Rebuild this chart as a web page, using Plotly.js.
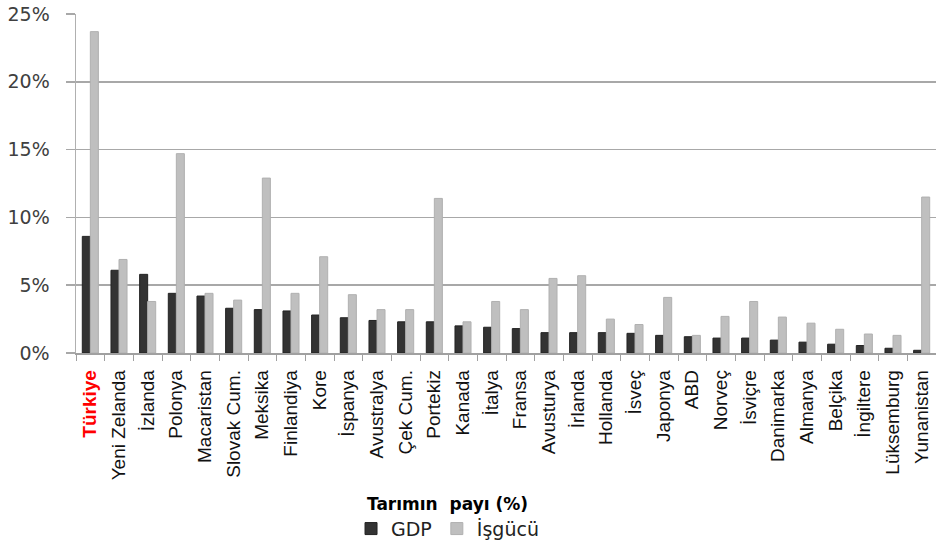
<!DOCTYPE html>
<html>
<head>
<meta charset="utf-8">
<script src="https://cdn.plot.ly/plotly-3.0.1.min.js"></script>
<style>html,body{margin:0;padding:0;background:#fff;}#chart{width:936px;height:540px;}</style>
</head>
<body>
<div id="chart"></div>
<script>
var categories = ["Türkiye","Yeni Zelanda","İzlanda","Polonya","Macaristan","Slovak Cum.","Meksika","Finlandiya","Kore","İspanya","Avustralya","Çek Cum.","Portekiz","Kanada","İtalya","Fransa","Avusturya","İrlanda","Hollanda","İsveç","Japonya","ABD","Norveç","İsviçre","Danimarka","Almanya","Belçika","İngiltere","Lüksemburg","Yunanistan"];
var gdpShare = [8.6,6.1,5.8,4.4,4.2,3.3,3.2,3.1,2.8,2.6,2.4,2.3,2.3,2.0,1.9,1.8,1.5,1.5,1.5,1.45,1.3,1.2,1.1,1.1,0.95,0.8,0.65,0.55,0.35,0.2];
var labourShare = [23.7,6.9,3.8,14.7,4.4,3.9,12.9,4.4,7.1,4.3,3.2,3.2,11.4,2.3,3.8,3.2,5.5,5.7,2.5,2.1,4.1,1.3,2.7,3.8,2.65,2.2,1.75,1.4,1.3,11.5];
var yTicks = [0,5,10,15,20,25];
var yTickLabels = ["0%","5%","10%","15%","20%","25%"];
var highlight = "Türkiye";

var tickText = categories.map(function(c){
  return c === highlight ? '<b><span style="color:#ff0000">' + c + '</span></b>' : c;
});

var traces = [
  {type:'bar', name:'GDP', x:categories, y:gdpShare,
   marker:{color:'#333333', line:{color:'#222222', width:1}}, hoverinfo:'skip'},
  {type:'bar', name:'İşgücü', x:categories, y:labourShare,
   marker:{color:'#bfbfbf', line:{color:'#b0b0b0', width:1}}, hoverinfo:'skip'}
];

var layout = {
  width:936, height:540,
  margin:{l:76, r:0, t:14, b:187},
  paper_bgcolor:'#ffffff', plot_bgcolor:'#ffffff',
  barmode:'group', bargap:0.44, bargroupgap:0,
  showlegend:true,
  legend:{
    orientation:'h', xref:'paper', x:0.432, xanchor:'center',
    yref:'container', y:0.097, yanchor:'top',
    font:{family:'DejaVu Sans', size:19, color:'#222222'},
    title:{text:'<b>Tarımın  payı (%)</b>', side:'top center', font:{family:'DejaVu Sans', size:17, color:'#000000'}},
    traceorder:'normal'
  },
  xaxis:{
    type:'category', tickmode:'array', tickvals:categories, ticktext:tickText,
    tickangle:-90, tickson:'boundaries', ticks:'outside', ticklen:6, tickcolor:'#a0a0a0',
    showline:true, linecolor:'#a0a0a0', linewidth:1.5, showgrid:false,
    tickfont:{family:'Liberation Sans', size:19, color:'#111111'},
    ticklabelstandoff:8, automargin:false,
    fixedrange:true
  },
  yaxis:{
    range:[0,25], tickmode:'array', tickvals:yTicks, ticktext:yTickLabels,
    ticks:'outside', ticklen:9, tickcolor:'#a8a8a8', tickwidth:1.5,
    showgrid:true, gridcolor:'#a8a8a8', gridwidth:1.5,
    showline:true, linecolor:'#b0b0b0', linewidth:1.5, zeroline:false,
    tickfont:{family:'DejaVu Sans', size:19, color:'#404040'},
    ticklabelstandoff:12, automargin:false,
    fixedrange:true
  }
};

Plotly.newPlot('chart', traces, layout, {displayModeBar:false, staticPlot:true});
</script>
</body>
</html>
